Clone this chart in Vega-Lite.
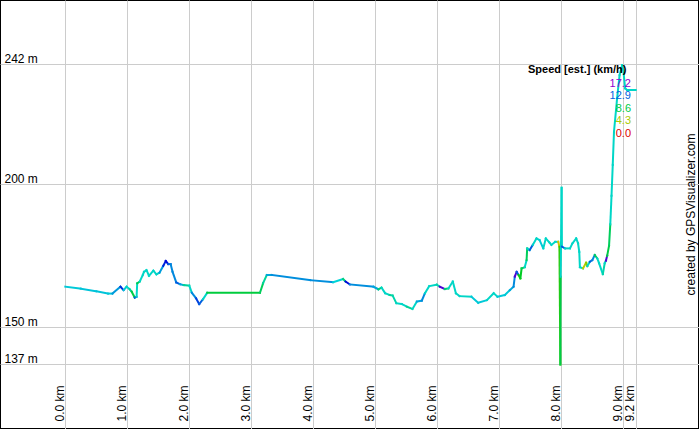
{
  "$schema": "https://vega.github.io/schema/vega-lite/v6.json",
  "width": 699,
  "height": 429,
  "autosize": "none",
  "padding": 0,
  "background": "white",
  "title": {
    "text": "created by GPSVisualizer.com",
    "orient": "right",
    "angle": 270,
    "anchor": "middle",
    "offset": -25,
    "font": "Liberation Sans",
    "fontSize": 12,
    "fontWeight": "normal",
    "color": "black"
  },
  "data": {
    "values": [
      {"d": 0.00, "e": 164.2, "s": 11.2},
      {"d": 0.25, "e": 163.5, "s": 11.3},
      {"d": 0.50, "e": 162.6, "s": 11.3},
      {"d": 0.69, "e": 161.8, "s": 11.2},
      {"d": 0.76, "e": 161.8, "s": 12.0},
      {"d": 0.89, "e": 164.2, "s": 13.8},
      {"d": 0.94, "e": 163.0, "s": 11.2},
      {"d": 0.99, "e": 164.2, "s": 10.7},
      {"d": 1.04, "e": 163.3, "s": 10.0},
      {"d": 1.07, "e": 162.5, "s": 8.6},
      {"d": 1.12, "e": 160.4, "s": 13.0},
      {"d": 1.15, "e": 160.7, "s": 10.7},
      {"d": 1.16, "e": 165.4, "s": 8.8},
      {"d": 1.20, "e": 166.0, "s": 10.7},
      {"d": 1.25, "e": 168.3, "s": 10.7},
      {"d": 1.27, "e": 169.4, "s": 10.7},
      {"d": 1.31, "e": 170.0, "s": 10.7},
      {"d": 1.35, "e": 168.0, "s": 10.7},
      {"d": 1.42, "e": 169.8, "s": 10.7},
      {"d": 1.47, "e": 168.5, "s": 10.7},
      {"d": 1.52, "e": 169.1, "s": 12.0},
      {"d": 1.58, "e": 171.5, "s": 14.0},
      {"d": 1.62, "e": 173.2, "s": 14.5},
      {"d": 1.66, "e": 172.1, "s": 13.0},
      {"d": 1.70, "e": 172.1, "s": 12.3},
      {"d": 1.73, "e": 169.4, "s": 12.3},
      {"d": 1.79, "e": 165.7, "s": 13.0},
      {"d": 1.85, "e": 165.1, "s": 11.8},
      {"d": 1.91, "e": 164.8, "s": 10.0},
      {"d": 2.00, "e": 164.6, "s": 10.7},
      {"d": 2.04, "e": 162.1, "s": 12.3},
      {"d": 2.11, "e": 160.1, "s": 13.5},
      {"d": 2.16, "e": 158.1, "s": 13.0},
      {"d": 2.22, "e": 159.8, "s": 10.7},
      {"d": 2.29, "e": 162.1, "s": 8.5},
      {"d": 3.14, "e": 162.1, "s": 9.0},
      {"d": 3.19, "e": 165.4, "s": 10.0},
      {"d": 3.25, "e": 168.3, "s": 11.8},
      {"d": 3.33, "e": 168.3, "s": 12.2},
      {"d": 3.95, "e": 166.5, "s": 12.2},
      {"d": 4.32, "e": 165.8, "s": 11.0},
      {"d": 4.48, "e": 166.9, "s": 9.5},
      {"d": 4.52, "e": 166.0, "s": 14.5},
      {"d": 4.59, "e": 165.0, "s": 12.2},
      {"d": 4.97, "e": 164.2, "s": 11.8},
      {"d": 5.05, "e": 163.3, "s": 9.5},
      {"d": 5.10, "e": 163.9, "s": 10.7},
      {"d": 5.16, "e": 161.9, "s": 10.7},
      {"d": 5.23, "e": 161.3, "s": 10.0},
      {"d": 5.28, "e": 161.1, "s": 10.3},
      {"d": 5.34, "e": 158.4, "s": 10.7},
      {"d": 5.43, "e": 158.1, "s": 10.7},
      {"d": 5.51, "e": 157.2, "s": 10.0},
      {"d": 5.60, "e": 156.4, "s": 10.7},
      {"d": 5.67, "e": 159.0, "s": 11.8},
      {"d": 5.75, "e": 159.3, "s": 12.3},
      {"d": 5.80, "e": 161.9, "s": 10.7},
      {"d": 5.87, "e": 164.4, "s": 10.7},
      {"d": 5.99, "e": 164.9, "s": 10.3},
      {"d": 6.04, "e": 164.2, "s": 16.0},
      {"d": 6.12, "e": 163.4, "s": 9.5},
      {"d": 6.18, "e": 163.6, "s": 10.7},
      {"d": 6.25, "e": 166.0, "s": 10.7},
      {"d": 6.30, "e": 161.9, "s": 10.7},
      {"d": 6.36, "e": 160.9, "s": 10.7},
      {"d": 6.55, "e": 160.7, "s": 11.2},
      {"d": 6.66, "e": 158.6, "s": 11.2},
      {"d": 6.80, "e": 159.5, "s": 10.7},
      {"d": 6.91, "e": 161.9, "s": 10.7},
      {"d": 6.97, "e": 160.7, "s": 11.2},
      {"d": 7.09, "e": 161.3, "s": 11.2},
      {"d": 7.17, "e": 163.0, "s": 11.8},
      {"d": 7.23, "e": 164.2, "s": 12.3},
      {"d": 7.25, "e": 167.7, "s": 16.0},
      {"d": 7.28, "e": 169.4, "s": 13.0},
      {"d": 7.31, "e": 168.3, "s": 7.5},
      {"d": 7.34, "e": 167.1, "s": 8.0},
      {"d": 7.36, "e": 170.6, "s": 9.0},
      {"d": 7.41, "e": 171.0, "s": 10.7},
      {"d": 7.44, "e": 173.5, "s": 9.0},
      {"d": 7.45, "e": 177.6, "s": 10.7},
      {"d": 7.49, "e": 177.0, "s": 13.0},
      {"d": 7.54, "e": 178.8, "s": 10.7},
      {"d": 7.60, "e": 181.1, "s": 10.7},
      {"d": 7.65, "e": 180.5, "s": 11.2},
      {"d": 7.71, "e": 177.6, "s": 10.7},
      {"d": 7.75, "e": 181.1, "s": 10.7},
      {"d": 7.81, "e": 179.6, "s": 10.7},
      {"d": 7.84, "e": 178.8, "s": 10.7},
      {"d": 7.90, "e": 179.9, "s": 10.7},
      {"d": 7.95, "e": 179.9, "s": 3.5},
      {"d": 7.97, "e": 178.2, "s": 6.5},
      {"d": 7.985, "e": 137.0, "s": 8.6},
      {"d": 7.99, "e": 167.7, "s": 10.7},
      {"d": 8.005, "e": 198.8, "s": 10.7},
      {"d": 8.01, "e": 178.2, "s": 13.0},
      {"d": 8.06, "e": 177.6, "s": 10.7},
      {"d": 8.14, "e": 177.6, "s": 10.7},
      {"d": 8.18, "e": 179.4, "s": 10.7},
      {"d": 8.24, "e": 181.1, "s": 10.7},
      {"d": 8.27, "e": 179.4, "s": 10.7},
      {"d": 8.29, "e": 176.4, "s": 10.7},
      {"d": 8.30, "e": 171.0, "s": 10.7},
      {"d": 8.35, "e": 170.6, "s": 4.0},
      {"d": 8.40, "e": 172.6, "s": 5.0},
      {"d": 8.42, "e": 171.4, "s": 10.7},
      {"d": 8.46, "e": 172.9, "s": 13.0},
      {"d": 8.50, "e": 173.5, "s": 12.3},
      {"d": 8.54, "e": 175.3, "s": 9.0},
      {"d": 8.58, "e": 174.1, "s": 10.7},
      {"d": 8.61, "e": 172.4, "s": 10.7},
      {"d": 8.67, "e": 168.6, "s": 10.3},
      {"d": 8.70, "e": 172.4, "s": 10.7},
      {"d": 8.72, "e": 173.3, "s": 16.0},
      {"d": 8.74, "e": 175.0, "s": 8.6},
      {"d": 8.77, "e": 178.5, "s": 9.0},
      {"d": 8.79, "e": 186.0, "s": 10.7},
      {"d": 8.81, "e": 196.0, "s": 10.7},
      {"d": 8.83, "e": 206.8, "s": 10.7},
      {"d": 8.85, "e": 218.4, "s": 10.7},
      {"d": 8.90, "e": 230.1, "s": 10.7},
      {"d": 8.94, "e": 238.2, "s": 10.7},
      {"d": 8.98, "e": 241.7, "s": 10.7},
      {"d": 9.00, "e": 240.0, "s": 10.7},
      {"d": 9.03, "e": 233.6, "s": 10.7},
      {"d": 9.06, "e": 233.0, "s": 10.7},
      {"d": 9.20, "e": 233.0, "s": 10.7}
    ]
  },
  "transform": [
    {
      "window": [
        {"op": "lead", "field": "d", "as": "d2"},
        {"op": "lead", "field": "e", "as": "e2"}
      ],
      "sort": [{"field": "d"}]
    },
    {"filter": "datum.d2 != null"}
  ],
  "mark": {"type": "rule", "strokeWidth": 2, "strokeCap": "square"},
  "encoding": {
    "x": {
      "field": "d",
      "type": "quantitative",
      "scale": {"domain": [-1.053, 10.221], "nice": false, "zero": false},
      "axis": {
        "values": [0, 1, 2, 3, 4, 5, 6, 7, 8, 9, 9.2],
        "labelExpr": "format(datum.value, '.1f') + ' km'",
        "labelAngle": 270,
        "labelAlign": "left",
        "labelBaseline": "alphabetic",
        "labelPadding": -8,
        "labelOffset": -2,
        "ticks": false,
        "tickSize": 0,
        "domain": false,
        "grid": true,
        "labelOverlap": false,
        "labelFlush": false,
        "labelBound": false,
        "title": null
      }
    },
    "x2": {"field": "d2"},
    "y": {
      "field": "e",
      "type": "quantitative",
      "scale": {"domain": [114.43, 264.48], "nice": false, "zero": false},
      "axis": {
        "values": [137, 150, 200, 242],
        "labelExpr": "datum.value + ' m'",
        "labelAlign": "left",
        "labelBaseline": "alphabetic",
        "labelPadding": -4,
        "labelOffset": -2,
        "ticks": false,
        "tickSize": 0,
        "domain": false,
        "grid": true,
        "labelOverlap": false,
        "labelFlush": false,
        "labelBound": false,
        "title": null
      }
    },
    "y2": {"field": "e2"},
    "color": {
      "field": "s",
      "type": "quantitative",
      "scale": {
        "domain": [0, 4.3, 8.6, 12.9, 17.2],
        "range": ["#dd0000", "#aacc00", "#00cc44", "#0064e0", "#9000d0"],
        "interpolate": "hsl"
      },
      "legend": {
        "type": "symbol",
        "values": [17.2, 12.9, 8.6, 4.3, 0],
        "format": ".1f",
        "title": "Speed [est.] (km/h)",
        "orient": "none",
        "legendX": 528,
        "legendY": 64,
        "direction": "vertical",
        "titleAnchor": "start",
        "titleAlign": "left",
        "titleFontWeight": "bold",
        "titleFontSize": 11,
        "titleColor": "black",
        "titlePadding": 3,
        "titleLimit": 300,
        "labelAlign": "right",
        "labelOffset": 92,
        "labelFontSize": 11,
        "labelLimit": 200,
        "rowPadding": 0.5,
        "symbolSize": 0,
        "symbolOpacity": 0,
        "symbolStrokeWidth": 0,
        "encode": {
          "labels": {"update": {"fill": {"scale": "color", "field": "value"}}}
        }
      }
    }
  },
  "config": {
    "font": "Liberation Sans",
    "view": {"stroke": "black", "strokeWidth": 2},
    "axis": {
      "gridColor": "#cccccc",
      "gridWidth": 1,
      "gridOpacity": 1,
      "labelFont": "Liberation Sans",
      "labelFontSize": 12,
      "labelColor": "black"
    },
    "legend": {"labelFont": "Liberation Sans", "titleFont": "Liberation Sans"}
  }
}
